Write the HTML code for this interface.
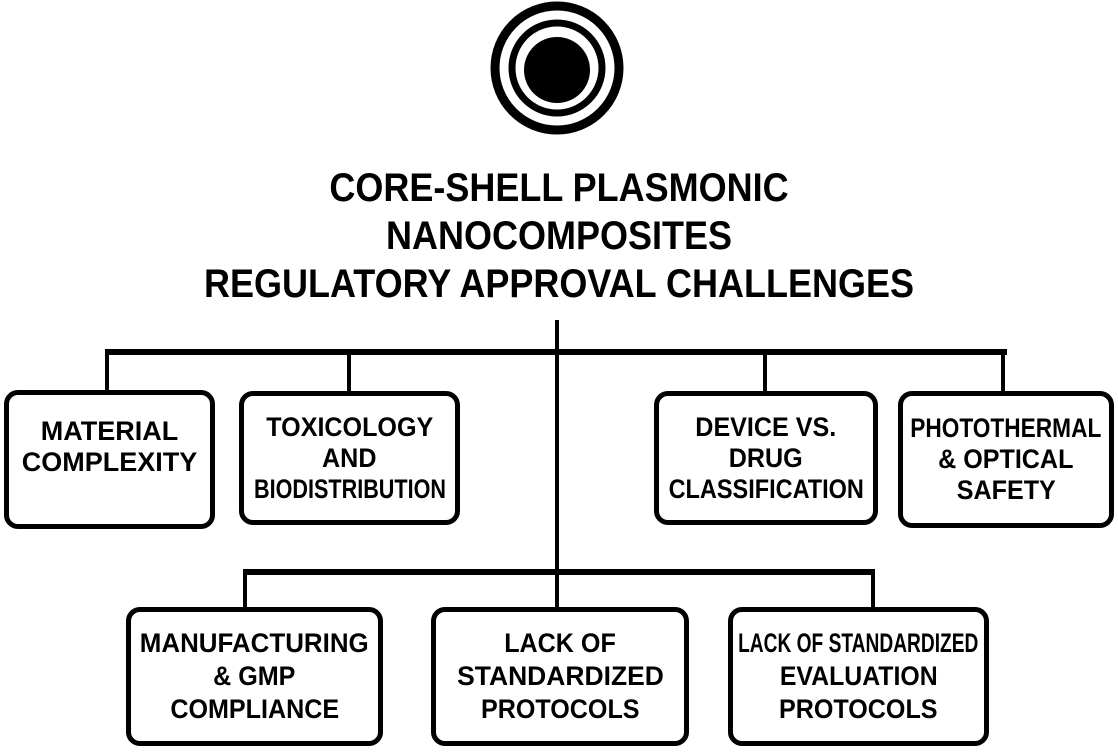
<!DOCTYPE html>
<html><head><meta charset="utf-8"><style>
body{margin:0;width:1118px;height:755px;background:#fff;position:relative;overflow:hidden;font-family:"Liberation Sans",sans-serif;font-weight:bold;color:#000}
.t{position:absolute;left:0;width:1118px;text-align:center;font-size:40px;line-height:48px;top:164px}
.t span{display:block;transform:scaleX(.9)}
.b{position:absolute;border:5px solid #000;border-radius:14px;box-sizing:border-box;display:flex;flex-direction:column;align-items:center;justify-content:center;text-align:center;font-size:27px;line-height:31px;background:#fff;white-space:nowrap}
.b span{display:block;transform:scaleX(.93)}
.r2{line-height:33px}
.l{position:absolute;background:#000}
</style></head><body>
<svg style="position:absolute;left:0;top:0" width="1118" height="140">
<circle cx="557" cy="68" r="62" fill="none" stroke="#000" stroke-width="9"/>
<circle cx="557" cy="68" r="45" fill="none" stroke="#000" stroke-width="7"/>
<circle cx="557" cy="70" r="33" fill="#000"/>
</svg>
<div class="t"><span>CORE-SHELL PLASMONIC</span><span>NANOCOMPOSITES</span><span>REGULATORY APPROVAL CHALLENGES</span></div>
<div class="l" style="left:555px;top:320px;width:4px;height:290px"></div>
<div class="l" style="left:105px;top:349px;width:902px;height:6px"></div>
<div class="l" style="left:105px;top:352px;width:4px;height:40px"></div>
<div class="l" style="left:347px;top:352px;width:4px;height:40px"></div>
<div class="l" style="left:763px;top:352px;width:4px;height:40px"></div>
<div class="l" style="left:1001px;top:352px;width:4px;height:40px"></div>
<div class="l" style="left:243px;top:569px;width:632px;height:6px"></div>
<div class="l" style="left:243px;top:572px;width:4px;height:38px"></div>
<div class="l" style="left:871px;top:572px;width:4px;height:38px"></div>
<div class="b" style="left:4px;top:390px;width:211px;height:139px;justify-content:flex-start;padding-top:21px"><span style="transform:none">MATERIAL</span><span style="transform:none">COMPLEXITY</span></div>
<div class="b" style="left:239px;top:391px;width:221px;height:134px"><span>TOXICOLOGY</span><span>AND</span><span style="transform:scaleX(.8)">BIODISTRIBUTION</span></div>
<div class="b" style="left:654px;top:391px;width:224px;height:134px"><span>DEVICE VS.</span><span>DRUG</span><span style="transform:scaleX(.87)">CLASSIFICATION</span></div>
<div class="b" style="left:898px;top:391px;width:216px;height:137px"><span style="transform:scaleX(.84)">PHOTOTHERMAL</span><span>&amp; OPTICAL</span><span>SAFETY</span></div>
<div class="b r2" style="left:126px;top:607px;width:257px;height:139px"><span style="transform:scaleX(.96)">MANUFACTURING</span><span>&amp; GMP</span><span>COMPLIANCE</span></div>
<div class="b r2" style="left:431px;top:607px;width:258px;height:139px"><span>LACK OF</span><span style="transform:scaleX(.98)">STANDARDIZED</span><span>PROTOCOLS</span></div>
<div class="b r2" style="left:728px;top:607px;width:261px;height:139px"><span style="transform:scaleX(.71)">LACK OF STANDARDIZED</span><span style="transform:scaleX(.92)">EVALUATION</span><span>PROTOCOLS</span></div>
</body></html>
